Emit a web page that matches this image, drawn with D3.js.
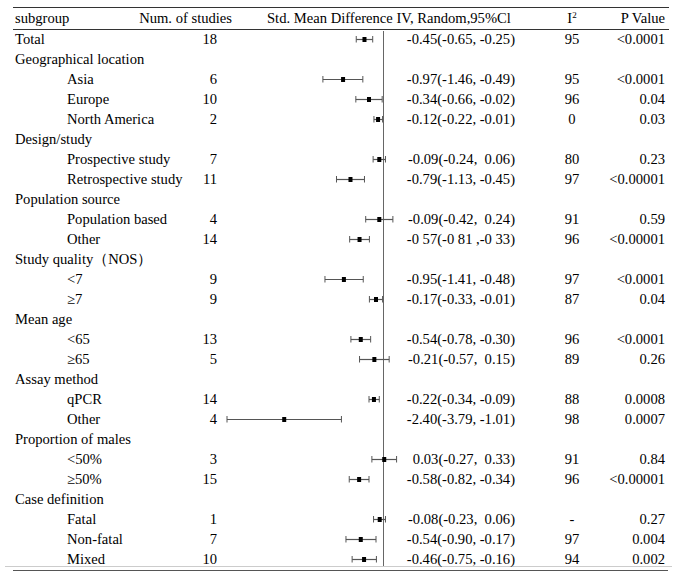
<!DOCTYPE html>
<html><head><meta charset="utf-8">
<script src="https://cdn.jsdelivr.net/npm/d3@7"></script>
<style>body{margin:0;background:#fff}svg{display:block}</style>
</head><body><svg id="c" width="683" height="578" font-family="'Liberation Serif', 'Times New Roman', 'DejaVu Serif', serif" font-size="14.6"></svg>
<script>
const labels = ["Total","Geographical location","Asia","Europe","North America","Design/study","Prospective study","Retrospective study","Population source","Population based","Other","Study quality\uFF08NOS\uFF09","<7","\u22657","Mean age","<65","\u226565","Assay method","qPCR","Other","Proportion of males","<50%","\u226550%","Case definition","Fatal","Non-fatal","Mixed"];
const indent = [0,0,1,1,1,0,1,1,0,1,1,0,1,1,0,1,1,0,1,1,0,1,1,0,1,1,1];
const nStudies = [18,null,6,10,2,null,7,11,null,4,14,null,9,9,null,13,5,null,14,4,null,3,15,null,1,7,10];
const smd = [-0.45,null,-0.97,-0.34,-0.12,null,-0.09,-0.79,null,-0.09,-0.57,null,-0.95,-0.17,null,-0.54,-0.21,null,-0.22,-2.40,null,0.03,-0.58,null,-0.08,-0.54,-0.46];
const ciLow = [-0.65,null,-1.46,-0.66,-0.22,null,-0.24,-1.13,null,-0.42,-0.81,null,-1.41,-0.33,null,-0.78,-0.57,null,-0.34,-3.79,null,-0.27,-0.82,null,-0.23,-0.90,-0.75];
const ciHigh = [-0.25,null,-0.49,-0.02,-0.01,null,0.06,-0.45,null,0.24,-0.33,null,-0.48,-0.01,null,-0.30,0.15,null,-0.09,-1.01,null,0.33,-0.34,null,0.06,-0.17,-0.16];
const ciText = ["-0.45(-0.65, -0.25)",null,"-0.97(-1.46, -0.49)","-0.34(-0.66, -0.02)","-0.12(-0.22, -0.01)",null,"-0.09(-0.24,  0.06)","-0.79(-1.13, -0.45)",null,"-0.09(-0.42,  0.24)","-0 57(-0 81 ,-0 33)",null,"-0.95(-1.41, -0.48)","-0.17(-0.33, -0.01)",null,"-0.54(-0.78, -0.30)","-0.21(-0.57,  0.15)",null,"-0.22(-0.34, -0.09)","-2.40(-3.79, -1.01)",null," 0.03(-0.27,  0.33)","-0.58(-0.82, -0.34)",null,"-0.08(-0.23,  0.06)","-0.54(-0.90, -0.17)","-0.46(-0.75, -0.16)"];
const i2 = ["95",null,"95","96","0",null,"80","97",null,"91","96",null,"97","87",null,"96","89",null,"88","98",null,"91","96",null,"-","97","94"];
const pValue = ["<0.0001",null,"<0.0001","0.04","0.03",null,"0.23","<0.00001",null,"0.59","<0.00001",null,"<0.0001","0.04",null,"<0.0001","0.26",null,"0.0008","0.0007",null,"0.84","<0.00001",null,"0.27","0.004","0.002"];
const headers = ["subgroup","Num. of studies","Std. Mean Difference IV, Random,95%Cl","I","P Value"];

const svg = d3.select("#c");
const rows = labels.map((l,i)=>({l,ind:indent[i],n:nStudies[i],m:smd[i],lo:ciLow[i],hi:ciHigh[i],ci:ciText[i],i2:i2[i],p:pValue[i]}));
const y = d3.scaleBand().domain(d3.range(rows.length)).range([29, 569]).paddingInner(0).paddingOuter(0);
const x = d3.scaleLinear().domain([-3.79, 0]).range([227, 383]);
const base = 5;

// rules
svg.append("line").attr("x1",13).attr("x2",669).attr("y1",7.5).attr("y2",7.5).attr("stroke","#333");
svg.append("line").attr("x1",13).attr("x2",669).attr("y1",29.5).attr("y2",29.5).attr("stroke","#333");
svg.append("line").attr("x1",5).attr("x2",672).attr("y1",566.5).attr("y2",566.5).attr("stroke","#ccc");
svg.append("line").attr("x1",13).attr("x2",668).attr("y1",570.5).attr("y2",570.5).attr("stroke","#555");

// headers
const hy = 23;
svg.append("text").attr("x",15).attr("y",hy).text(headers[0]);
svg.append("text").attr("x",232).attr("y",hy).attr("text-anchor","end").text(headers[1]);
svg.append("text").attr("x",267).attr("y",hy).text(headers[2]);
const ih = svg.append("text").attr("x",572).attr("y",hy).attr("text-anchor","middle");
ih.append("tspan").text(headers[3]);
ih.append("tspan").attr("dy",-5).attr("font-size",9).text("2");
svg.append("text").attr("x",665).attr("y",hy).attr("text-anchor","end").text(headers[4]);

// zero line
svg.append("line").attr("x1",x(0)+0.5).attr("x2",x(0)+0.5).attr("y1",31).attr("y2",566).attr("stroke","#666");

const g = svg.selectAll("g.row").data(rows).join("g").attr("class","row")
  .attr("transform",(d,i)=>`translate(0,${y(i)+y.bandwidth()/2})`);
g.append("text").attr("x",d=>d.ind?67:15).attr("y",base).text(d=>d.l);
g.filter(d=>d.n!=null).append("text").attr("x",217).attr("y",base).attr("text-anchor","end").text(d=>d.n);
g.filter(d=>d.ci!=null).append("text").attr("x",515).attr("y",base).attr("text-anchor","end").attr("xml:space","preserve").style("white-space","pre").text(d=>d.ci);
g.filter(d=>d.i2!=null).append("text").attr("x",572).attr("y",base).attr("text-anchor","middle").text(d=>d.i2);
g.filter(d=>d.p!=null).append("text").attr("x",665).attr("y",base).attr("text-anchor","end").text(d=>d.p);

const f = g.filter(d=>d.m!=null);
f.append("line").attr("x1",d=>x(d.lo)).attr("x2",d=>x(d.hi)).attr("y1",0.5).attr("y2",0.5).attr("stroke","#555").attr("stroke-width",1.2);
f.append("line").attr("x1",d=>x(d.lo)).attr("x2",d=>x(d.lo)).attr("y1",-3).attr("y2",3.5).attr("stroke","#555");
f.append("line").attr("x1",d=>x(d.hi)).attr("x2",d=>x(d.hi)).attr("y1",-3).attr("y2",3.5).attr("stroke","#555");
f.append("rect").attr("x",d=>x(d.m)-2).attr("y",-2).attr("width",4).attr("height",5).attr("fill","#000");
</script></body></html>
